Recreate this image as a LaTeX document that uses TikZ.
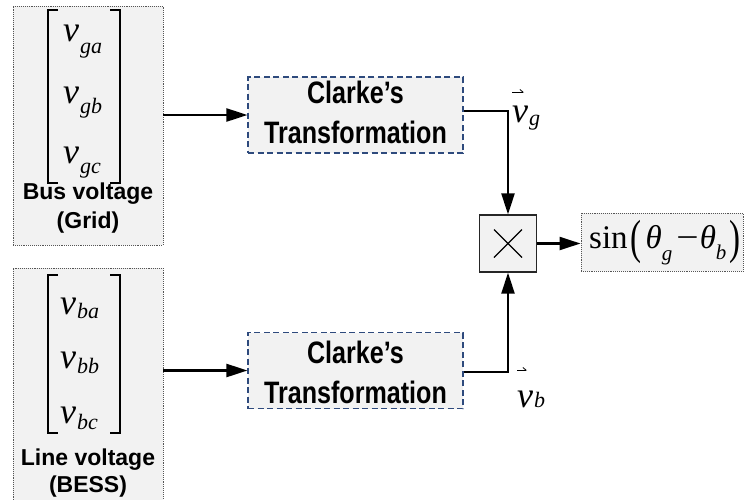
\documentclass[tikz,border=0pt]{standalone}
\usepackage{fontspec}
\setmainfont{Liberation Serif}
\newfontfamily\captionfont{Liberation Sans Bold}
\newfontfamily\blockfont[FakeStretch=0.81]{Liberation Sans Bold}
\usetikzlibrary{arrows.meta}

\definecolor{boxfill}{HTML}{F2F2F2}
\definecolor{dashblue}{HTML}{2E4A7D}
\definecolor{dotgray}{HTML}{555555}

% phase voltage symbol: italic v with a lowered subscript (#2 = drop)
\newcommand\phasev[2]{{\fontsize{36}{36}\selectfont\itshape v}\kern1pt\raisebox{-#2pt}{\fontsize{22}{22}\selectfont\itshape #1}}
\newcommand\subsc[2]{\raisebox{-#2pt}{\fontsize{21}{21}\selectfont\itshape #1}}
\newcommand\tallparen[1]{\raisebox{-5.5pt}{\scalebox{1}[1.45]{#1}}}

\begin{document}
\begin{tikzpicture}[x=1pt,y=-1pt,
  inbox/.style={draw=dotgray, densely dotted, fill=boxfill, line width=0.9pt, inner sep=0},
  clarke/.style={draw=dashblue, dash pattern=on 6pt off 3.5pt, fill=boxfill, line width=1.1pt,
    minimum width=215pt, minimum height=76pt, inner sep=0},
  multbox/.style={draw=black!85, fill=boxfill, line width=1.2pt, minimum size=57pt, inner sep=0},
  wire/.style={line width=2.2pt, -{Triangle[length=21pt,width=13pt]}},
  bracket/.style={line width=2pt},
  caption/.style={font=\captionfont\fontsize{23}{23}\selectfont, anchor=base, inner sep=0},
  blocktext/.style={font=\blockfont\fontsize{31}{31}\selectfont, anchor=base, inner sep=0},
  sym/.style={anchor=base west, inner sep=0},
  vecbar/.style={line width=0.8pt, -{Straight Barb[left,length=3pt,width=5pt]}}
]
\useasboundingbox (0,0) rectangle (744,499);

% input blocks
\node[inbox, minimum width=150pt, minimum height=239pt] (in1) at (88,125.5) {};
\node[inbox, minimum width=150pt, minimum height=242pt] (in2) at (88,389) {};

% column vectors of the grid voltages
\draw[bracket] (58,10) -- (48,10) -- (48,183) -- (58,183);
\draw[bracket] (110,10) -- (120,10) -- (120,183) -- (110,183);
\node[sym] (vga) at (63,41) {\phasev{ga}{12}};
\node[sym] (vgb) at (63,103) {\phasev{gb}{10}};
\node[sym] (vgc) at (63,163) {\phasev{gc}{10}};
\node[caption] (bus1) at (88,199) {Bus voltage};
\node[caption] (bus2) at (88,228) {(Grid)};

% column vectors of the BESS voltages
\draw[bracket] (58,275) -- (48,275) -- (48,433) -- (58,433);
\draw[bracket] (110,275) -- (120,275) -- (120,433) -- (110,433);
\node[sym] (vba) at (60,314) {\phasev{ba}{4}};
\node[sym] (vbb) at (60,368) {\phasev{bb}{5}};
\node[sym] (vbc) at (60,423) {\phasev{bc}{6}};
\node[caption] (line1) at (88,465) {Line voltage};
\node[caption] (line2) at (88,492) {(BESS)};

% Clarke transformation blocks
\node[clarke] (ct1) at (355.5,115) {};
\node[blocktext] at (355.5,103) {Clarke’s};
\node[blocktext] at (355.5,143) {Transformation};
\node[clarke] (ct2) at (355.5,370.5) {};
\node[blocktext] at (355.5,363) {Clarke’s};
\node[blocktext] at (355.5,403) {Transformation};

% multiplier
\node[multbox] (mult) at (508,243.5) {};
\draw[line width=1.3pt] ([shift={(-14,-14)}]mult.center) -- ([shift={(14,14)}]mult.center)
                        ([shift={(-14,14)}]mult.center) -- ([shift={(14,-14)}]mult.center);

% output
\node[inbox, minimum width=162pt, minimum height=58pt] (out) at (662,242) {};
\node[sym] (sinexpr) at (589,248) {\fontsize{33}{33}\selectfont sin\kern3pt\tallparen{(}\kern4pt\textit{θ}\subsc{g}{12}\kern4pt\scalebox{1.2}[1]{−}\kern1pt\textit{θ}\subsc{b}{11}\kern3pt\tallparen{)}};

% space vector labels
\node[sym] (vg) at (512,122) {\phasev{g}{3}};
\draw[vecbar] (512,92) -- (524,92);
\node[sym] (vb) at (517,407) {\phasev{b}{0}};
\draw[vecbar] (517,370) -- (527,370);

% signal flow
\draw[wire] (in1.east |- ct1.west) -- (ct1.west);
\draw[wire] (in2.east |- ct2.west) -- (ct2.west);
\draw[wire] ([yshift=4pt]ct1.east) -| (mult.north);
\draw[wire] ([yshift=-1.5pt]ct2.east) -| (mult.south);
\draw[wire] (mult.east) -- (mult.east -| out.west);
\end{tikzpicture}
\end{document}
